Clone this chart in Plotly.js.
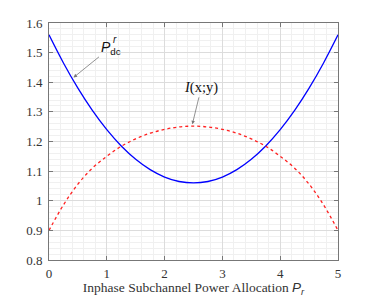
<!DOCTYPE html>
<html>
<head>
<meta charset="utf-8">
<script src="https://cdn.plot.ly/plotly-3.0.1.min.js"></script>
<style>html,body{margin:0;padding:0;background:#fff;}#chart{width:374px;height:297px;}</style>
</head>
<body>
<div id="chart"></div>
<script>
// Power allocation P_r (x axis)
const xValues = [0,0.25,0.5,0.75,1,1.25,1.5,1.75,2,2.25,2.5,2.75,3,3.25,3.5,3.75,4,4.25,4.5,4.75,5];
// P_dc^r curve (blue)
const pdcValues = [1.56,1.465,1.38,1.305,1.24,1.185,1.14,1.105,1.08,1.065,1.06,1.065,1.08,1.105,1.14,1.185,1.24,1.305,1.38,1.465,1.56];
// I(x;y) curve (red dashed)
const mutualInfo = [0.900,0.986,1.056,1.110,1.150,1.184,1.209,1.228,1.241,1.249,1.252,1.249,1.241,1.228,1.209,1.184,1.150,1.110,1.056,0.986,0.900];
const xTicks = [0,1,2,3,4,5];
const yTicks = [0.8,0.9,1,1.1,1.2,1.3,1.4,1.5,1.6];

const traces = [
  {x: xValues, y: pdcValues, mode: 'lines', line: {color: '#0000ff', width: 1.3, shape: 'spline'}, hoverinfo: 'skip'},
  {x: xValues, y: mutualInfo, mode: 'lines', line: {color: '#ff2020', width: 1.3, dash: '3px,3px', shape: 'spline'}, hoverinfo: 'skip'}
];

const axisCommon = {
  showline: true, linecolor: '#777', linewidth: 1, mirror: 'ticks',
  ticks: 'inside', ticklen: 4, tickcolor: '#777',
  showgrid: true, gridcolor: '#dcdcdc', gridwidth: 1,
  zeroline: false,
  tickfont: {family: 'Liberation Serif, Times New Roman, serif', size: 13, color: '#333'}
};

const layout = {
  width: 374, height: 297,
  margin: {l: 48.7, r: 36, t: 22.7, b: 37},
  paper_bgcolor: '#fff', plot_bgcolor: '#fff',
  showlegend: false,
  xaxis: Object.assign({}, axisCommon, {
    range: [0,5], tickvals: xTicks, ticklabelstandoff: 1,
    minor: {dtick: 0.2, showgrid: true, gridcolor: '#f0f0f0', gridwidth: 1},
    title: {text: 'Inphase Subchannel Power Allocation <span style="font-family:Liberation Sans, Arial, sans-serif"><i>P</i><sub><i>r</i></sub></span>',
            font: {family: 'Liberation Serif, Times New Roman, serif', size: 13.5, color: '#333'}, standoff: 5}
  }),
  yaxis: Object.assign({}, axisCommon, {
    range: [0.8,1.6], tickvals: yTicks, ticklabelstandoff: 3,
    minor: {dtick: 0.02, showgrid: true, gridcolor: '#f0f0f0', gridwidth: 1}
  }),
  annotations: [
    {x: 0.424, y: 1.416, xref: 'x', yref: 'y', ax: 37, ay: -30,
     text: '<i>P</i><sub>dc</sub>', showarrow: true, arrowhead: 2, arrowsize: 0.9, arrowwidth: 0.8, arrowcolor: '#777',
     font: {family: 'Liberation Sans, Arial, sans-serif', size: 14, color: '#111'}},
    {x: 1.08, y: 1.544, xref: 'x', yref: 'y', xanchor: 'left', yanchor: 'middle', showarrow: false,
     text: '<i>r</i>', font: {family: 'Liberation Sans, Arial, sans-serif', size: 10, color: '#111'}},
    {x: 2.48, y: 1.258, xref: 'x', yref: 'y', ax: 9, ay: -37,
     text: '<i>I</i>(x;y)', showarrow: true, arrowhead: 2, arrowsize: 0.9, arrowwidth: 0.8, arrowcolor: '#777',
     font: {family: 'Liberation Serif, Times New Roman, serif', size: 14.5, color: '#111'}}
  ]
};

Plotly.newPlot('chart', traces, layout, {staticPlot: true, displayModeBar: false});
</script>
</body>
</html>
